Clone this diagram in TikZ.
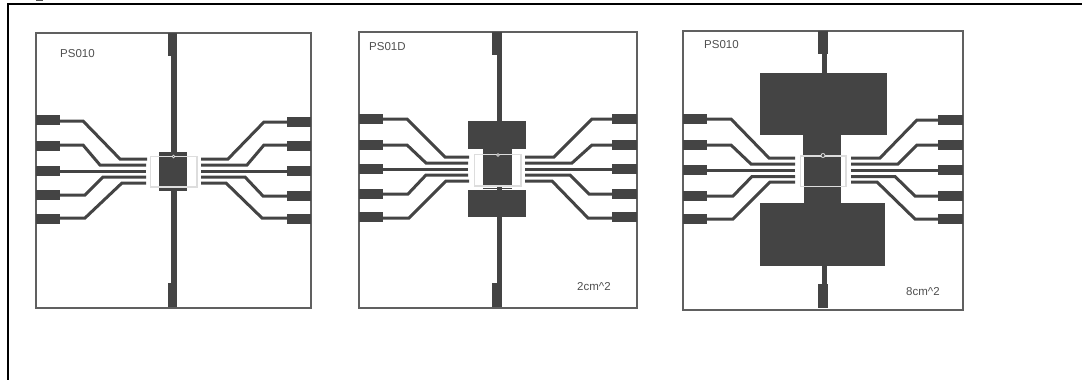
\documentclass[tikz,border=0pt]{standalone}
\usepackage{fontspec}
\setmainfont{Liberation Sans}
\definecolor{metal}{HTML}{444444}
\definecolor{edge}{HTML}{606060}
\definecolor{mask}{HTML}{DDDDDD}
\definecolor{ink}{HTML}{505050}
\tikzset{
  outerframe/.style={draw=black,line width=2.6pt,line cap=butt},
  panel/.style={draw=edge,line width=1.5pt,fill=white},
  padfill/.style={fill=metal},
  trace/.style={draw=metal,line width=3pt,line join=miter},
  maskbox/.style={draw=mask,line width=1.2pt},
  via/.style={draw=mask,line width=.8pt,fill=metal},
  gaplabel/.style={text=ink,inner sep=0pt,anchor=west,font=\fontsize{11.5}{12}\selectfont}
}
\begin{document}
\begin{tikzpicture}[x=1pt,y=-1pt]
\useasboundingbox (0,0) rectangle (1082,380);
\fill[white] (0,0) rectangle (1082,380);
\fill[ink] (36,0) rectangle (43,1);
\draw[outerframe] (8,380) -- (8,4) -- (1082,4);

% ---------- panel 1
\draw[panel] (36,33) rectangle (311,308);
\node[gaplabel] (t1) at (60,54) {PS010};
\fill[padfill] (167.5,33) rectangle (177,56);
\fill[padfill] (167.5,283) rectangle (177,306.5);
\fill[padfill] (170.5,56) rectangle (176.5,152);
\fill[padfill] (170.5,190) rectangle (176.5,283);
\fill[padfill] (159,152) rectangle (187,190.5);
\foreach \y in {120,146,171,195,219} \fill[padfill] (36,\y-5) rectangle (59.5,\y+5);
\foreach \y in {122,146,171,196,219} \fill[padfill] (286.5,\y-5) rectangle (311,\y+5);
\draw[trace] (59,121) -- (83,121) -- (120,159) -- (147,159);
\draw[trace] (59,145) -- (83,145) -- (100,165) -- (146,165);
\draw[trace] (59,171) -- (146,171);
\draw[trace] (59,195) -- (85,195) -- (103,177) -- (146,177);
\draw[trace] (59,218) -- (85,218) -- (122,183) -- (146,183);
\draw[trace] (287,122) -- (264,122) -- (228,159) -- (201,159);
\draw[trace] (287,145) -- (264,145) -- (247,165) -- (201,165);
\draw[trace] (287,171) -- (201,171);
\draw[trace] (287,196) -- (263,196) -- (245,177) -- (201,177);
\draw[trace] (287,218) -- (262,218) -- (226,183) -- (201,183);
\draw[maskbox] (150.5,156.5) rectangle (197,187);
\draw[via] (173.5,156.5) circle (1.4);

% ---------- panel 2
\draw[panel] (359,32) rectangle (637,308);
\node[gaplabel] (t2) at (369,47) {PS01D};
\node[gaplabel] (a2) at (577,287) {2cm\textasciicircum 2};
\fill[padfill] (492,32) rectangle (502,55);
\fill[padfill] (492,283) rectangle (502,306.5);
\fill[padfill] (496.5,55) rectangle (501.5,121);
\fill[padfill] (496.5,186) rectangle (501.5,190);
\fill[padfill] (496.5,217) rectangle (501.5,283);
\fill[padfill] (468,121) rectangle (526,149);
\fill[padfill] (483,149) rectangle (512,186);
\fill[padfill] (483,187.5) rectangle (512,188.5);
\fill[padfill] (468,190) rectangle (526,217);
\foreach \y in {119,145,169,194,217} \fill[padfill] (359,\y-5) rectangle (383,\y+5);
\foreach \y in {119,145,169,194,217} \fill[padfill] (612,\y-5) rectangle (637,\y+5);
\draw[trace] (383,119) -- (407,119) -- (445,157) -- (469,157);
\draw[trace] (383,145) -- (407,145) -- (426,163) -- (468,163);
\draw[trace] (383,169) -- (468,169);
\draw[trace] (383,194) -- (408,194) -- (426,175) -- (468,175);
\draw[trace] (383,218) -- (409,218) -- (446,181) -- (469,181);
\draw[trace] (612,119) -- (592,119) -- (554,157) -- (525,157);
\draw[trace] (612,145) -- (592,145) -- (572,163) -- (525,163);
\draw[trace] (612,169) -- (525,169);
\draw[trace] (612,194) -- (589,194) -- (570,175) -- (525,175);
\draw[trace] (612,218) -- (588,218) -- (552,181) -- (525,181);
\draw[maskbox] (474.5,154.5) rectangle (521,186);
\draw[via] (498,155) circle (1.4);

% ---------- panel 3
\draw[panel] (683,31) rectangle (963,310);
\node[gaplabel] (t3) at (704,45) {PS010};
\node[gaplabel] (a3) at (906,292) {8cm\textasciicircum 2};
\fill[padfill] (818,31) rectangle (828,54);
\fill[padfill] (817.5,284) rectangle (828,308);
\fill[padfill] (822,54) rectangle (827,73);
\fill[padfill] (822,266) rectangle (827,284);
\fill[padfill] (760,73) rectangle (887,135);
\fill[padfill] (803,135) rectangle (841,156);
\fill[padfill] (804,156) rectangle (841,203);
\fill[padfill] (760,203) rectangle (885,266);
\foreach \y in {119,145,170,196,219} \fill[padfill] (683,\y-5) rectangle (707,\y+5);
\foreach \y in {120,145,170,196,219} \fill[padfill] (938,\y-5) rectangle (963,\y+5);
\draw[trace] (707,119) -- (731,119) -- (769,158) -- (795,158);
\draw[trace] (707,145) -- (731,145) -- (751,164) -- (795,164);
\draw[trace] (707,170) -- (795,170);
\draw[trace] (707,196) -- (733,196) -- (752,176.5) -- (795,176.5);
\draw[trace] (707,219) -- (733,219) -- (770,182) -- (795,182);
\draw[trace] (938,120) -- (917,120) -- (880,158) -- (851,158);
\draw[trace] (938,145) -- (917,145) -- (898,164) -- (851,164);
\draw[trace] (938,170) -- (851,170);
\draw[trace] (938,196) -- (915,196) -- (895,176.5) -- (851,176.5);
\draw[trace] (938,219) -- (915,219) -- (877,182) -- (851,182);
\draw[maskbox] (800.5,156) rectangle (846,186.5);
\draw[via] (823,155.5) circle (2);
\end{tikzpicture}
\end{document}
